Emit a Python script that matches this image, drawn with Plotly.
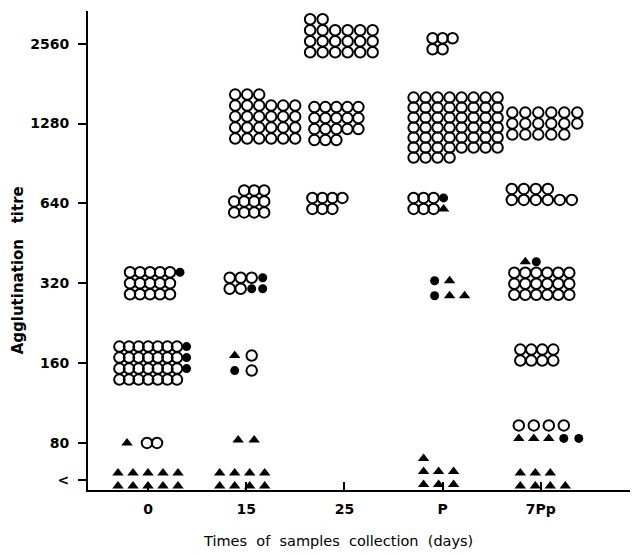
import plotly.graph_objects as go

# ---------------- data ----------------
groups = ["0", "15", "25", "P", "7Pp"]
levels = ["<", "80", "160", "320", "640", "1280", "2560"]
level_ticks = [0.54, 1, 2, 3, 4, 5, 6]

# rows top->bottom; o = open circle, f = filled circle, t = filled triangle, ' ' = gap
day0 = {
    "320": ["ooooof", "ooooo", "ooooo"],
    "160": ["ooooooof", "ooooooof", "ooooooof", "ooooooo"],
    "80": ["t oo"],
    "<": ["ttttt", "ttttt"],
}
day15 = {
    "1280": ["ooo", "oooooo", "oooooo", "oooooo", "oooooo"],
    "640": [" ooo", "oooo", "oooo"],
    "320": ["ooof", "ooff"],
    "160": ["to", "fo"],
    "80": ["tt"],
    "<": ["tttt", "tttt"],
}
day25 = {
    "2560": ["oo", "oooooo", "oooooo", "oooooo"],
    "1280": ["ooooo", "ooooo", "ooooo", "ooo"],
    "640": ["oooo", "ooo"],
}
dayP = {
    "2560": ["ooo", "oo"],
    "1280": ["oooooooo", "oooooooo", "oooooooo", "oooooooo", "oooooooo", "oooooooo", "oooo"],
    "640": ["ooof", "ooot"],
    "320": ["ft", "ftt"],
    "<": ["t", "ttt", "ttt"],
}
day7Pp = {
    "1280": ["oooooo", "oooooo", "ooooo"],
    "640": ["oooo", "oooooo"],
    "320": [" tf", "oooooo", "oooooo", "oooooo"],
    "160": ["oooo", "oooo"],
    "80": ["oooo", "tttff"],
    "<": ["ttt", "tttt"],
}
clusters = [day0, day15, day25, dayP, day7Pp]

# ---------------- layout geometry (style) ----------------
W, H = 638, 555
ml, mr, mt, mb = 80, 8, 3, 73
xr = [-0.611, 4.99]
yr = [0.41, 6.41]
ppx = (W - ml - mr) / (xr[1] - xr[0])
ppy = (H - mt - mb) / (yr[1] - yr[0])

default_gap = 10.0
col_gap = {
    ("0", "<"): 15, ("0", "160"): 9.6, ("15", "1280"): 12, ("15", "320"): 11, ("15", "160"): 17,
    ("15", "80"): 16, ("15", "<"): 15, ("25", "2560"): 12.5, ("25", "1280"): 11,
    ("P", "1280"): 12, ("P", "320"): 15, ("P", "<"): 15, ("7Pp", "80"): 15, ("7Pp", "<"): 15,
    ("7Pp", "1280"): 13, ("7Pp", "640"): 12, ("7Pp", "320"): 11, ("7Pp", "160"): 11,
}
default_row = 11.0
row_gaps = {("0", "<"): 13, ("15", "<"): 13, ("P", "<"): 13, ("7Pp", "<"): 13,
            ("7Pp", "80"): 13, ("P", "320"): 15, ("15", "160"): 15, ("P", "1280"): 10}
# cluster offsets in px (dx right, dy up)
shift = {
    ("0", "160"): (5, 0), ("0", "320"): (7, 0), ("0", "80"): (-6, 0),
    ("15", "1280"): (19, 7), ("15", "640"): (3, 2), ("15", "160"): (-3, 0), ("15", "<"): (-4, 0),
    ("15", "80"): (0, 3),
    ("25", "2560"): (-3, 8), ("25", "1280"): (-8, 0), ("25", "640"): (-17, 0),
    ("P", "1280"): (13, -4), ("P", "640"): (-14, 0), ("P", "320"): (7, -5), ("P", "<"): (-4, 8),
    ("7Pp", "1280"): (4, 0), ("7Pp", "640"): (1, 9), ("7Pp", "320"): (1, 5),
    ("7Pp", "160"): (-4, 8), ("7Pp", "80"): (8, 11), ("7Pp", "<"): (2, 0),
}

pts = {"o": ([], []), "f": ([], []), "t": ([], [])}
for gi, (g, cl) in enumerate(zip(groups, clusters)):
    for lev, rows in cl.items():
        ly = level_ticks[levels.index(lev)]
        gap = col_gap.get((g, lev), default_gap)
        rg = row_gaps.get((g, lev), default_row)
        dx, dy = shift.get((g, lev), (0, 0))
        ncol = max(len(r) for r in rows)
        nrow = len(rows)
        x0 = gi + (dx - (ncol - 1) * gap / 2) / ppx
        for ri, row in enumerate(rows):
            yy = ly + (dy + ((nrow - 1) / 2 - ri) * rg) / ppy
            for ci, ch in enumerate(row):
                if ch == " ":
                    continue
                pts[ch][0].append(x0 + ci * gap / ppx)
                pts[ch][1].append(yy)

fig = go.Figure()
fig.add_trace(go.Scatter(x=pts["o"][0], y=pts["o"][1], mode="markers",
                         marker=dict(symbol="circle-open", size=10.5, color="black",
                                     line=dict(width=2, color="black")),
                         hoverinfo="skip", showlegend=False))
fig.add_trace(go.Scatter(x=pts["f"][0], y=pts["f"][1], mode="markers",
                         marker=dict(symbol="circle", size=9, color="black"),
                         hoverinfo="skip", showlegend=False))
fig.add_trace(go.Scatter(x=pts["t"][0], y=pts["t"][1], mode="markers",
                         marker=dict(symbol="triangle-up", size=10, color="black"),
                         hoverinfo="skip", showlegend=False))

tickfont = dict(family="DejaVu Sans, sans-serif", size=14, color="black", weight="bold")
xtitlefont = dict(family="DejaVu Sans, sans-serif", size=14.5, color="black")
ytitlefont = dict(family="DejaVu Sans, sans-serif", size=15, color="black", weight="bold")
fig.update_layout(
    width=W, height=H,
    margin=dict(l=ml, r=mr, t=mt, b=mb),
    paper_bgcolor="white", plot_bgcolor="white",
    xaxis=dict(range=xr, tickmode="array", tickvals=list(range(len(groups))), ticktext=groups,
               showgrid=False, zeroline=False, showline=True, linecolor="black", linewidth=2,
               ticks="inside", ticklen=8, tickwidth=1.5, tickcolor="black",
               ticklabelstandoff=5, tickfont=tickfont),
    yaxis=dict(range=yr, tickmode="array", tickvals=level_ticks, ticktext=levels,
               showgrid=False, zeroline=False, showline=True, linecolor="black", linewidth=2,
               ticks="outside", ticklen=8, tickwidth=1.5, tickcolor="black",
               ticklabelstandoff=6, tickfont=tickfont),
    annotations=[
        dict(text="Times\u00a0 of\u00a0 samples\u00a0 collection\u00a0 (days)", xref="paper", yref="paper",
             x=0.4545, y=-0.106, xanchor="center", yanchor="middle", showarrow=False, font=xtitlefont),
        dict(text="Agglutination\u00a0\u00a0 titre", xref="paper", yref="paper", textangle=-90,
             x=-0.127, y=0.459, xanchor="center", yanchor="middle", showarrow=False, font=ytitlefont),
    ],
)
fig.write_html("out.html")
